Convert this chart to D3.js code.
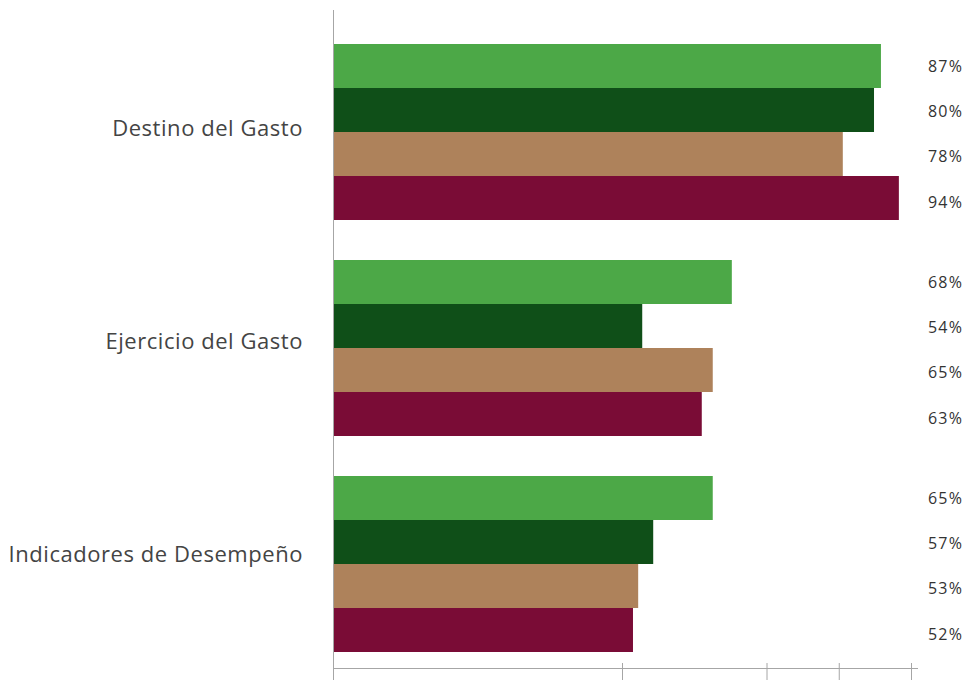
<!DOCTYPE html>
<html>
<head>
<meta charset="utf-8">
<script src="https://cdn.jsdelivr.net/npm/d3@7"></script>
<style>
  body { margin: 0; background: #fff; }
  svg { display: block; font-family: "Open Sans", "Noto Sans", sans-serif; }
</style>
</head>
<body>
<div id="chart"></div>
<script>
// categories (top to bottom)
var categories = ["Destino del Gasto", "Ejercicio del Gasto", "Indicadores de Desempeño"];
// four series per category, in drawing order (top bar first)
var series = ["s1", "s2", "s3", "s4"];
var colors = ["#4ca847", "#0f4f18", "#ae825b", "#7a0c36"];
// bar lengths as drawn (percent)
var values = [
	[94.8, 93.6, 88.2, 97.9],
	[69.0, 53.5, 65.7, 63.8],
	[65.7, 55.4, 52.8, 51.9]
];
// labels printed at the right
var labels = [
	["87%", "80%", "78%", "94%"],
	["68%", "54%", "65%", "63%"],
	["65%", "57%", "53%", "52%"]
];
var tickValues = [0, 50, 75, 87.5, 100];

var width = 966, height = 680;
var svg = d3.select("#chart").append("svg")
	.attr("width", width).attr("height", height);

var x = d3.scaleLinear().domain([0, 100]).range([333, 911]);

var y0 = d3.scaleBand()
	.domain(categories)
	.range([24, 672])
	.paddingInner(40 / 216)
	.paddingOuter(20 / 216);

var y1 = d3.scaleBand()
	.domain(series)
	.range([0, y0.bandwidth()]);

var groups = svg.selectAll(".group")
	.data(categories)
	.enter().append("g")
	.attr("class", "group")
	.attr("transform", function(d) { return "translate(0," + y0(d) + ")"; });

groups.selectAll("rect")
	.data(function(d, i) { return values[i]; })
	.enter().append("rect")
	.attr("x", x(0))
	.attr("y", function(d, j) { return y1(series[j]); })
	.attr("width", function(d) { return x(d) - x(0); })
	.attr("height", y1.bandwidth())
	.attr("fill", function(d, j) { return colors[j]; });

// value labels sit on a slightly wider pitch than the bars
groups.selectAll(".val")
	.data(function(d, i) { return labels[i]; })
	.enter().append("text")
	.attr("class", "val")
	.attr("x", 928)
	.attr("y", function(d, j) { return y1(series[j]) + y1.bandwidth() / 2 + j * 1.4; })
	.attr("dy", "0.35em")
	.attr("font-size", 16)
	.attr("letter-spacing", 1.2)
	.attr("fill", "#333")
	.text(function(d) { return d; });

groups.append("text")
	.attr("x", 303)
	.attr("y", function(d, i) { return y0.bandwidth() / 2 - 4 - i * 3; })
	.attr("dy", "0.35em")
	.attr("text-anchor", "end")
	.attr("font-size", 22)
	.attr("letter-spacing", 0.55)
	.attr("fill", "#444")
	.text(function(d) { return d; });

// vertical axis line
svg.append("line")
	.attr("x1", x(0) + 0.5).attr("x2", x(0) + 0.5)
	.attr("y1", 10).attr("y2", height)
	.attr("stroke", "#a6a6a6");

// bottom axis
var axis = d3.axisBottom(x)
	.tickValues(tickValues)
	.tickSize(22)
	.tickFormat("");
var ga = svg.append("g")
	.attr("transform", "translate(0,668)")
	.call(axis);
ga.select(".domain").attr("d", "M" + x(0) + ",0.5H918").attr("stroke", "#a6a6a6");
ga.selectAll(".tick line").attr("y1", -5).attr("stroke", "#a6a6a6");
ga.selectAll(".tick").filter(function(d) { return d === 0; }).remove();
</script>
</body>
</html>
